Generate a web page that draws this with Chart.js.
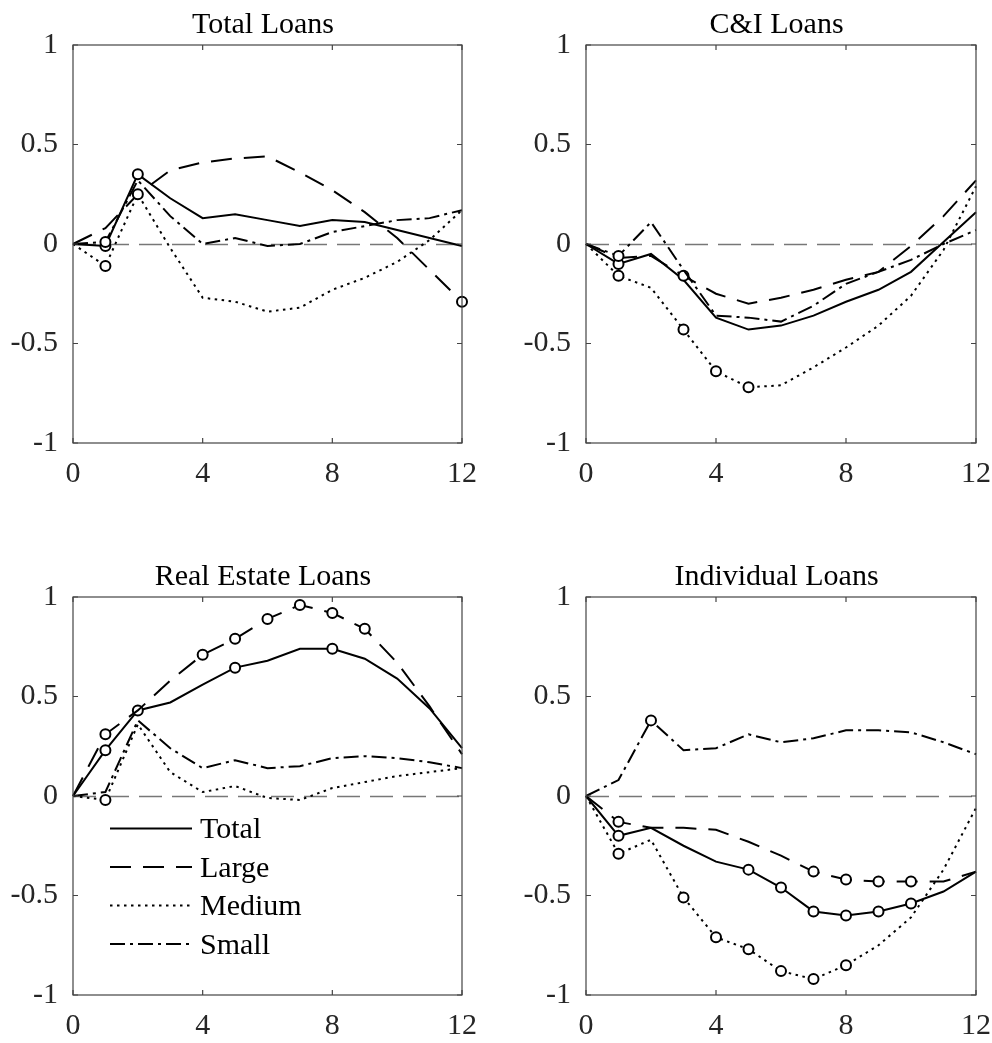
<!DOCTYPE html>
<html>
<head>
<meta charset="utf-8">
<title>Loan responses by bank size</title>
<script src="https://cdn.jsdelivr.net/npm/chart.js@4.4.1/dist/chart.umd.min.js"></script>
<style>
  html, body { margin: 0; padding: 0; background: #ffffff; }
  #wrap { position: relative; width: 992px; height: 1043px; overflow: hidden; }
  #wrap canvas { position: absolute; }
</style>
</head>
<body>
<div id="wrap">
  <canvas id="pTotal" width="496" height="491" style="left:0px;top:0px"></canvas>
  <canvas id="pCI" width="496" height="491" style="left:496px;top:0px"></canvas>
  <canvas id="pRE" width="496" height="491" style="left:0px;top:552px"></canvas>
  <canvas id="pInd" width="496" height="491" style="left:496px;top:552px"></canvas>
</div>
<script>
// Horizons (quarters after the shock) and axis ticks
const horizons = [0, 1, 2, 3, 4, 5, 6, 7, 8, 9, 10, 11, 12];
const xTicks = [0, 4, 8, 12];
const yTicks = [-1, -0.5, 0, 0.5, 1];
const seriesNames = ['Total', 'Large', 'Medium', 'Small'];

// Total Loans
const totalLoansTotal  = [0, -0.01, 0.35, 0.23, 0.13, 0.15, 0.12, 0.09, 0.12, 0.11, 0.07, 0.03, -0.01];
const totalLoansLarge  = [0, 0.08, 0.25, 0.37, 0.41, 0.43, 0.44, 0.36, 0.27, 0.16, 0.03, -0.13, -0.29];
const totalLoansMedium = [0, -0.11, 0.25, -0.02, -0.27, -0.29, -0.34, -0.32, -0.23, -0.17, -0.09, 0.02, 0.17];
const totalLoansSmall  = [0, 0.01, 0.32, 0.14, 0.00, 0.03, -0.01, 0.00, 0.06, 0.09, 0.12, 0.13, 0.17];
const totalLoansSig = [[1, 2], [12], [1, 2], [1]];

// C&I Loans
const ciLoansTotal  = [0, -0.10, -0.05, -0.18, -0.37, -0.43, -0.41, -0.36, -0.29, -0.23, -0.14, 0.01, 0.16];
const ciLoansLarge  = [0, -0.07, -0.06, -0.16, -0.25, -0.30, -0.27, -0.23, -0.18, -0.14, -0.01, 0.14, 0.32];
const ciLoansMedium = [0, -0.16, -0.22, -0.43, -0.64, -0.72, -0.71, -0.62, -0.52, -0.41, -0.26, -0.03, 0.29];
const ciLoansSmall  = [0, -0.06, 0.11, -0.13, -0.36, -0.37, -0.39, -0.31, -0.20, -0.14, -0.08, 0.00, 0.07];
const ciLoansSig = [[1], [3], [1, 3, 4, 5], [1]];

// Real Estate Loans
const reLoansTotal  = [0, 0.23, 0.43, 0.47, 0.56, 0.645, 0.68, 0.74, 0.74, 0.69, 0.59, 0.44, 0.24];
const reLoansLarge  = [0, 0.31, 0.43, 0.58, 0.71, 0.79, 0.89, 0.96, 0.92, 0.84, 0.67, 0.45, 0.21];
const reLoansMedium = [0, -0.02, 0.36, 0.12, 0.02, 0.05, -0.01, -0.02, 0.04, 0.07, 0.10, 0.12, 0.14];
const reLoansSmall  = [0, 0.02, 0.38, 0.24, 0.14, 0.18, 0.14, 0.15, 0.19, 0.20, 0.19, 0.17, 0.14];
const reLoansSig = [[1, 2, 5, 8], [1, 4, 5, 6, 7, 8, 9], [1], []];

// Individual Loans
const indLoansTotal  = [0, -0.20, -0.16, -0.25, -0.33, -0.37, -0.46, -0.58, -0.60, -0.58, -0.54, -0.48, -0.38];
const indLoansLarge  = [0, -0.13, -0.16, -0.16, -0.17, -0.23, -0.30, -0.38, -0.42, -0.43, -0.43, -0.43, -0.38];
const indLoansMedium = [0, -0.29, -0.22, -0.51, -0.71, -0.77, -0.88, -0.92, -0.85, -0.75, -0.61, -0.37, -0.06];
const indLoansSmall  = [0, 0.08, 0.38, 0.23, 0.24, 0.31, 0.27, 0.29, 0.33, 0.33, 0.32, 0.27, 0.21];
const indLoansSig = [[1, 5, 6, 7, 8, 9, 10], [1, 7, 8, 9, 10], [1, 3, 4, 5, 6, 7, 8], [2]];

const FONT = "'Liberation Serif', 'Times New Roman', serif";
const FONT_SIZE = 30;

// Line style per bank-size group
const lineStyles = [
  { dash: [] },              // Total: solid
  { dash: [21, 12] },        // Large: long dash
  { dash: [2.5, 4.5] },      // Medium: dotted
  { dash: [15, 5, 3, 5] }    // Small: dash-dot
];

function makeDatasets(seriesList, sigList) {
  return seriesList.map((vals, s) => ({
    label: seriesNames[s],
    data: horizons.map((h, i) => ({ x: h, y: vals[i] })),
    borderColor: '#000000',
    borderWidth: 2,
    borderDash: lineStyles[s].dash,
    borderCapStyle: 'butt',
    tension: 0,
    fill: false,
    clip: false,
    pointRadius: horizons.map(h => sigList[s].includes(h) ? 5 : 0),
    pointHoverRadius: 0,
    pointBackgroundColor: '#ffffff',
    pointBorderColor: '#000000',
    pointBorderWidth: 2,
    order: 4 - s
  }));
}

// Frame, inward tick marks, the dashed zero line and the panel title
const framePlugin = {
  id: 'frame',
  beforeDatasetsDraw(chart) {
    const { ctx, chartArea: a, scales: { y } } = chart;
    ctx.save();
    ctx.strokeStyle = '#777777';
    ctx.lineWidth = 1.4;
    ctx.setLineDash([23, 10]);
    const y0 = Math.round(y.getPixelForValue(0)) + 0.5;
    ctx.beginPath();
    ctx.moveTo(a.left, y0);
    ctx.lineTo(a.right, y0);
    ctx.stroke();
    ctx.restore();
  },
  afterDraw(chart, args, opts) {
    const { ctx, chartArea: a, scales: { x, y } } = chart;
    ctx.save();
    ctx.strokeStyle = '#444444';
    ctx.lineWidth = 1.2;
    ctx.setLineDash([]);
    ctx.strokeRect(a.left, a.top, a.right - a.left, a.bottom - a.top);
    const len = 5;
    ctx.beginPath();
    xTicks.forEach(v => {
      const px = x.getPixelForValue(v);
      ctx.moveTo(px, a.bottom); ctx.lineTo(px, a.bottom - len);
      ctx.moveTo(px, a.top); ctx.lineTo(px, a.top + len);
    });
    yTicks.forEach(v => {
      const py = y.getPixelForValue(v);
      ctx.moveTo(a.left, py); ctx.lineTo(a.left + len, py);
      ctx.moveTo(a.right, py); ctx.lineTo(a.right - len, py);
    });
    ctx.stroke();
    // panel title above the plot area
    ctx.font = FONT_SIZE + 'px ' + FONT;
    ctx.fillStyle = '#000000';
    ctx.textAlign = 'center';
    ctx.textBaseline = 'alphabetic';
    ctx.fillText(opts.title, (a.left + a.right) / 2 + (opts.titleShift || 0), a.top - 11.7);
    ctx.restore();
  }
};

// Line-sample legend drawn inside the plot area
const lineLegendPlugin = {
  id: 'lineLegend',
  afterDraw(chart, args, opts) {
    if (!opts || !opts.show) return;
    const { ctx, chartArea: a } = chart;
    ctx.save();
    ctx.font = FONT_SIZE + 'px ' + FONT;
    ctx.fillStyle = '#000000';
    ctx.textBaseline = 'alphabetic';
    ctx.textAlign = 'left';
    chart.data.datasets.forEach((ds, i) => {
      const rowY = a.top + opts.top + i * opts.rowGap;
      const x0 = a.left + opts.left;
      ctx.strokeStyle = ds.borderColor;
      ctx.lineWidth = ds.borderWidth;
      ctx.lineCap = 'butt';
      ctx.setLineDash(ds.borderDash || []);
      ctx.beginPath();
      ctx.moveTo(x0, rowY + 0.5);
      ctx.lineTo(x0 + opts.lineLen, rowY + 0.5);
      ctx.stroke();
      ctx.setLineDash([]);
      ctx.fillText(ds.label, x0 + opts.lineLen + 8, rowY + 10);
    });
    ctx.restore();
  }
};

function makePanel(canvasId, title, seriesList, sigList, yAxisWidth, padRight, showLegend) {
  const ctx = document.getElementById(canvasId).getContext('2d');
  return new Chart(ctx, {
    type: 'line',
    data: { datasets: makeDatasets(seriesList, sigList) },
    options: {
      responsive: false,
      animation: false,
      devicePixelRatio: 1,
      events: [],
      layout: { padding: { left: 0, right: padRight, top: 45, bottom: 0 } },
      plugins: {
        legend: { display: false },
        tooltip: { enabled: false },
        title: { display: false },
        frame: { title: title, titleShift: -4.5 },
        lineLegend: { show: showLegend, left: 37, top: 231, rowGap: 38.5, lineLen: 82 }
      },
      scales: {
        x: {
          type: 'linear',
          min: 0,
          max: 12,
          afterBuildTicks: s => { s.ticks = xTicks.map(v => ({ value: v })); },
          afterFit: s => { s.height = 48; s.paddingLeft = 0; s.paddingRight = 0; },
          grid: { display: false, drawTicks: false },
          border: { display: false },
          ticks: {
            color: '#262626',
            padding: 13,
            maxRotation: 0,
            autoSkip: false,
            font: { family: FONT, size: FONT_SIZE },
            callback: v => String(v)
          }
        },
        y: {
          type: 'linear',
          min: -1,
          max: 1,
          afterBuildTicks: s => { s.ticks = yTicks.map(v => ({ value: v })); },
          afterFit: s => { s.width = yAxisWidth; s.paddingTop = 0; s.paddingBottom = 0; },
          grid: { display: false, drawTicks: false },
          border: { display: false },
          ticks: {
            color: '#262626',
            padding: 15,
            autoSkip: false,
            font: { family: FONT, size: FONT_SIZE },
            callback: v => String(v)
          }
        }
      }
    },
    plugins: [framePlugin, lineLegendPlugin]
  });
}

makePanel('pTotal', 'Total Loans',
  [totalLoansTotal, totalLoansLarge, totalLoansMedium, totalLoansSmall], totalLoansSig, 73, 34, false);
makePanel('pCI', 'C&I Loans',
  [ciLoansTotal, ciLoansLarge, ciLoansMedium, ciLoansSmall], ciLoansSig, 90, 16, false);
makePanel('pRE', 'Real Estate Loans',
  [reLoansTotal, reLoansLarge, reLoansMedium, reLoansSmall], reLoansSig, 73, 34, true);
makePanel('pInd', 'Individual Loans',
  [indLoansTotal, indLoansLarge, indLoansMedium, indLoansSmall], indLoansSig, 90, 16, false);
</script>
</body>
</html>
